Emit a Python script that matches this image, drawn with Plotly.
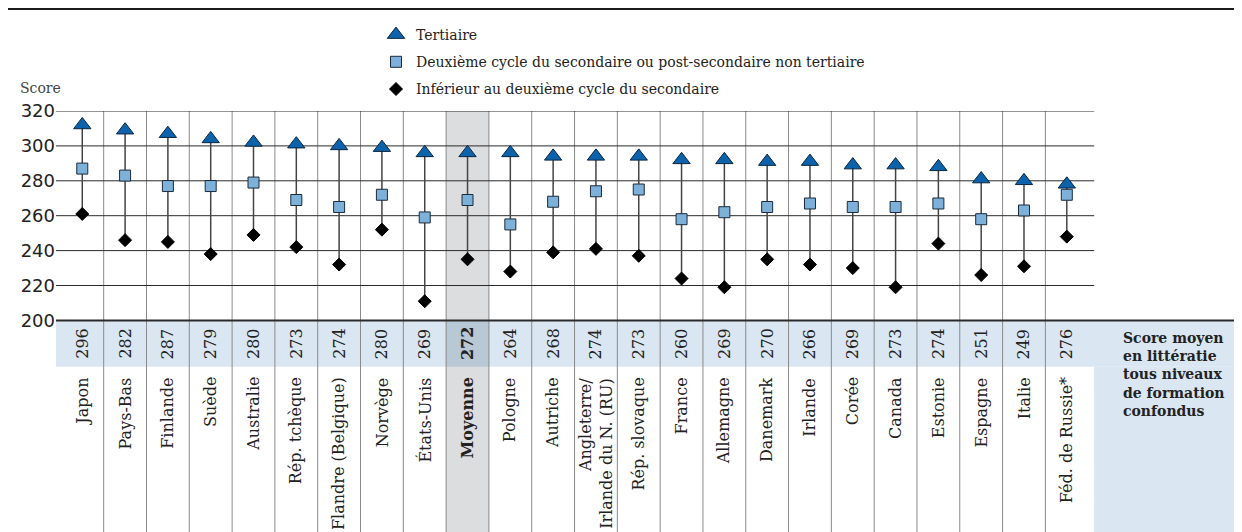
import plotly.graph_objects as go

pays = [
    "Japon", "Pays-Bas", "Finlande", "Suède", "Australie", "Rép. tchèque",
    "Flandre (Belgique)", "Norvège", "États-Unis", "Moyenne", "Pologne",
    "Autriche", "Angleterre/<br>Irlande du N. (RU)", "Rép. slovaque", "France",
    "Allemagne", "Danemark", "Irlande", "Corée", "Canada", "Estonie",
    "Espagne", "Italie", "Féd. de Russie*",
]
tertiaire = [312, 309, 307, 304, 302, 301, 300, 299, 296, 296, 296, 294,
             294, 294, 292, 292, 291, 291, 289, 289, 288, 281, 280, 278]
secondaire = [287, 283, 277, 277, 279, 269, 265, 272, 259, 269, 255, 268,
              274, 275, 258, 262, 265, 267, 265, 265, 267, 258, 263, 272]
inferieur = [261, 246, 245, 238, 249, 242, 232, 252, 211, 235, 228, 239,
             241, 237, 224, 219, 235, 232, 230, 219, 244, 226, 231, 248]
score_moyen = [296, 282, 287, 279, 280, 273, 274, 280, 269, 272, 264, 268,
               274, 273, 260, 269, 270, 266, 269, 273, 274, 251, 249, 276]
y_ticks = [200, 220, 240, 260, 280, 300, 320]

SERIF = "DejaVu Serif"
TXT = "#222222"
BAND = "#dae6f1"

n = len(pays)
xs = list(range(n))
i_moy = pays.index("Moyenne")

y_top, y_base = 320, 200
y_min = 320 - 429 / 1.745
band_low = 173.5
x_min, x_max = -0.614, 27.28
grid_end = n - 1 + 0.64

fig = go.Figure()

# liens verticaux
lx, ly = [], []
for i in xs:
    lx += [i, i, None]
    ly += [inferieur[i], tertiaire[i], None]
fig.add_trace(go.Scatter(x=lx, y=ly, mode="lines", line=dict(color="#444444", width=1.5),
                         showlegend=False, hoverinfo="skip"))

fig.add_trace(go.Scatter(
    x=xs, y=tertiaire, mode="markers", name="Tertiaire", legendgroup="a",
    marker=dict(symbol="triangle-up", size=15, color="#0d63ab", line=dict(color="#0a2540", width=1)),
))
fig.add_trace(go.Scatter(
    x=xs, y=secondaire, mode="markers", legendgroup="b",
    name="Deuxième cycle du secondaire ou post-secondaire non tertiaire",
    marker=dict(symbol="square", size=11, color="#7db1da", line=dict(color="#1c2b3a", width=1)),
))
fig.add_trace(go.Scatter(
    x=xs, y=inferieur, mode="markers", legendgroup="c",
    name="Inférieur au deuxième cycle du secondaire",
    marker=dict(symbol="diamond", size=10, color="#000000", line=dict(color="#000000", width=1)),
))

shapes = []
# fonds
shapes.append(dict(type="rect", xref="x", yref="y", x0=i_moy - 0.5, x1=i_moy + 0.5,
                   y0=y_min, y1=y_top, fillcolor="#dcdddf", line_width=0, layer="below"))
shapes.append(dict(type="rect", xref="paper", yref="y", x0=0, x1=1, y0=band_low, y1=y_base,
                   fillcolor=BAND, line_width=0, layer="below"))
shapes.append(dict(type="rect", xref="x", yref="y", x0=i_moy - 0.5, x1=i_moy + 0.5,
                   y0=band_low, y1=y_base, fillcolor="#b9c8d5", line_width=0, layer="below"))
shapes.append(dict(type="rect", xref="x", yref="y", x0=grid_end, x1=x_max, y0=y_min, y1=band_low,
                   fillcolor=BAND, line_width=0, layer="below"))
# séparateurs
for i in xs[:-1]:
    shapes.append(dict(type="line", xref="x", yref="y", x0=i + 0.5, x1=i + 0.5, y0=y_min, y1=y_top,
                       line=dict(color="#8a8a8a", width=1), layer="below"))
# grille
for v in y_ticks[1:]:
    shapes.append(dict(type="line", xref="x", yref="y", x0=x_min, x1=grid_end, y0=v, y1=v,
                       line=dict(color="#2a2a2a", width=1), layer="below"))
shapes.append(dict(type="line", xref="paper", yref="y", x0=0, x1=1, y0=y_base, y1=y_base,
                   line=dict(color="#2a2a2a", width=2)))
shapes.append(dict(type="line", xref="paper", yref="paper", x0=-48 / 1194, x1=1, y0=1 + 102 / 429,
                   y1=1 + 102 / 429, line=dict(color="#1a1a1a", width=2)))

annotations = []
for i in xs:
    bold = i == i_moy
    lab = f"<b>{pays[i]}</b>" if bold else pays[i]
    val = f"<b>{score_moyen[i]}</b>" if bold else str(score_moyen[i])
    annotations.append(dict(x=i, y=(band_low + y_base) / 2, xref="x", yref="y", text=val,
                            textangle=-90, showarrow=False, xanchor="center", yanchor="middle",
                            font=dict(family=SERIF, size=16, color=TXT)))
    annotations.append(dict(x=i, y=168.5, xref="x", yref="y", text=lab, textangle=-90,
                            showarrow=False, xanchor="center", yanchor="top", align="right",
                            font=dict(family=SERIF, size=16, color=TXT)))

annotations.append(dict(x=(1113 - 48) / 1194, y=195.5, xref="paper", yref="y",
                        text="<b>Score moyen<br>en littératie<br>tous niveaux<br>de formation<br>confondus</b>",
                        showarrow=False, xanchor="left", yanchor="top", align="left",
                        font=dict(family=SERIF, size=14, color=TXT)))
annotations.append(dict(x=(10 - 48) / 1194, y=1 + 23 / 429, xref="paper", yref="paper", text="Score",
                        showarrow=False, xanchor="left", yanchor="middle",
                        font=dict(family=SERIF, size=14, color="#444444")))

fig.update_xaxes(range=[x_min, x_max], visible=False, fixedrange=True)
fig.update_yaxes(range=[y_min, y_top], tickvals=y_ticks, showgrid=False, zeroline=False,
                 showline=False, ticks="", tickfont=dict(family="DejaVu Sans", size=18, color=TXT),
                 fixedrange=True)

fig.update_layout(
    width=1242,
    height=532,
    margin=dict(l=48, r=0, t=103, b=0),
    paper_bgcolor="white",
    plot_bgcolor="white",
    shapes=shapes,
    annotations=annotations,
    showlegend=True,
    legend=dict(x=(388 - 20 - 48) / 1194, y=1 + 92 / 429, xanchor="left", yanchor="top",
                font=dict(family=SERIF, size=14, color=TXT), tracegroupgap=6,
                bgcolor="rgba(0,0,0,0)"),
    font=dict(family=SERIF, color=TXT),
)

fig.write_html("out.html")
